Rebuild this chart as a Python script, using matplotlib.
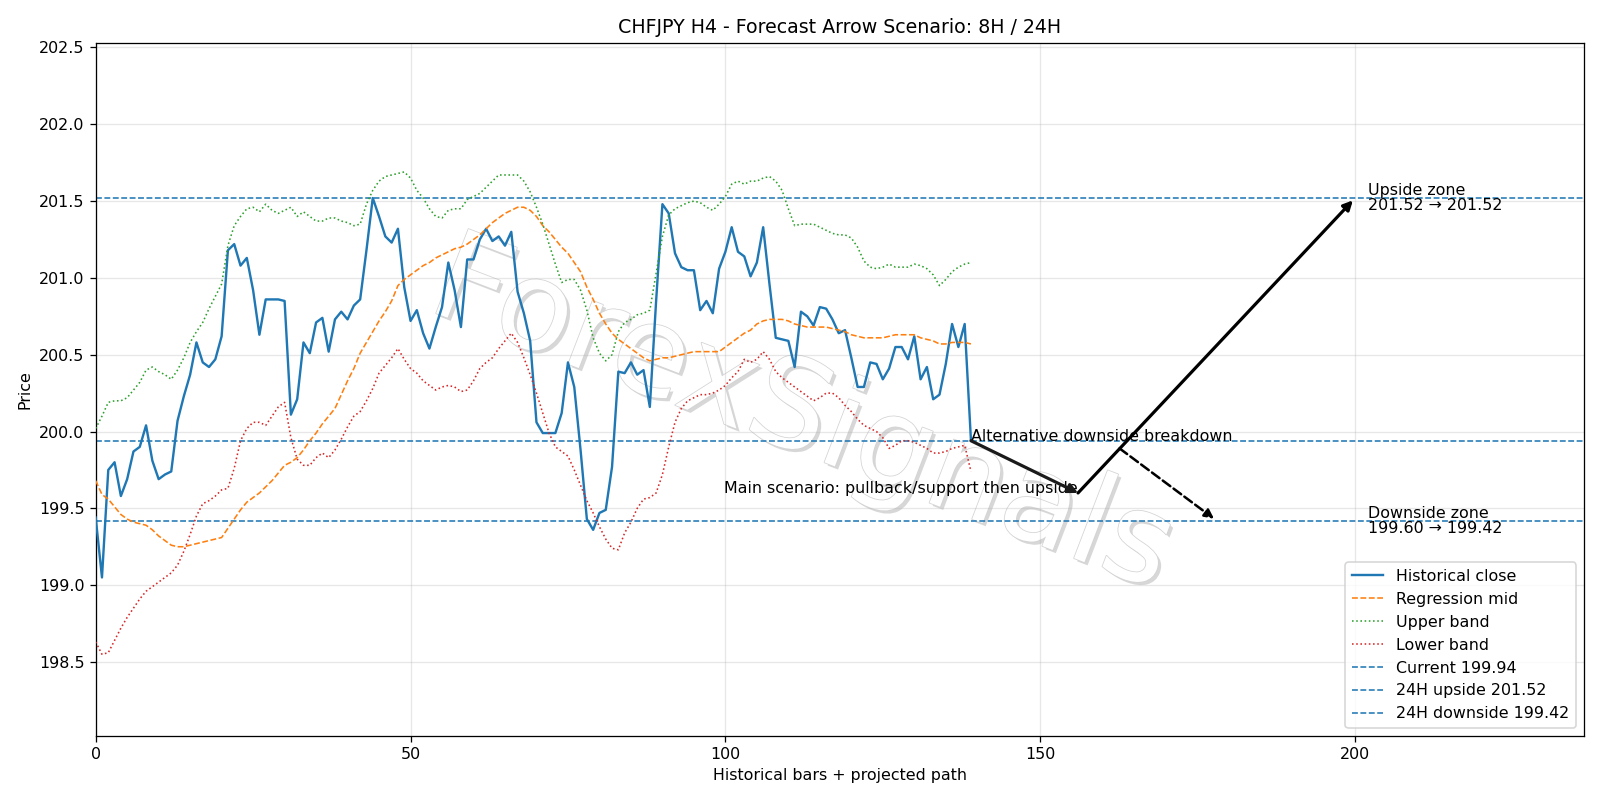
import numpy as np
import matplotlib
matplotlib.use("Agg")
import matplotlib.pyplot as plt
import matplotlib.patheffects as pe

title = "CHFJPY H4 - Forecast Arrow Scenario: 8H / 24H"

close = [199.44, 199.05, 199.75, 199.80, 199.58, 199.69, 199.87, 199.90, 200.04, 199.81,
         199.69, 199.72, 199.74, 200.07, 200.23, 200.37, 200.58, 200.45, 200.42, 200.47,
         200.62, 201.18, 201.22, 201.08, 201.13, 200.92, 200.63, 200.86, 200.86, 200.86,
         200.85, 200.11, 200.21, 200.58, 200.51, 200.71, 200.74, 200.52, 200.73, 200.78,
         200.73, 200.82, 200.86, 201.18, 201.52, 201.40, 201.27, 201.23, 201.32, 200.94,
         200.72, 200.79, 200.64, 200.54, 200.68, 200.81, 201.10, 200.92, 200.68, 201.12,
         201.12, 201.25, 201.32, 201.24, 201.27, 201.21, 201.30, 200.91, 200.77, 200.59,
         200.06, 199.99, 199.99, 199.99, 200.12, 200.45, 200.29, 199.88, 199.43, 199.36,
         199.47, 199.49, 199.77, 200.39, 200.38, 200.45, 200.37, 200.40, 200.16, 200.85,
         201.48, 201.42, 201.16, 201.07, 201.05, 201.05, 200.79, 200.85, 200.77, 201.06,
         201.17, 201.33, 201.17, 201.14, 201.01, 201.10, 201.33, 200.96, 200.61, 200.60,
         200.59, 200.42, 200.78, 200.75, 200.69, 200.81, 200.80, 200.73, 200.64, 200.66,
         200.48, 200.29, 200.29, 200.45, 200.44, 200.34, 200.41, 200.55, 200.55, 200.47,
         200.62, 200.34, 200.42, 200.21, 200.24, 200.44, 200.70, 200.55, 200.70, 199.94]

mid = [199.68, 199.59, 199.56, 199.51, 199.46, 199.43, 199.41, 199.40, 199.39, 199.36,
       199.32, 199.29, 199.26, 199.25, 199.25, 199.26, 199.27, 199.28, 199.29, 199.30,
       199.31, 199.37, 199.43, 199.49, 199.54, 199.57, 199.60, 199.64, 199.68, 199.73,
       199.78, 199.80, 199.83, 199.88, 199.94, 199.99, 200.05, 200.10, 200.15, 200.24,
       200.33, 200.41, 200.51, 200.58, 200.65, 200.72, 200.78, 200.85, 200.95, 200.99,
       201.02, 201.05, 201.08, 201.10, 201.13, 201.15, 201.17, 201.19, 201.20, 201.22,
       201.25, 201.28, 201.32, 201.36, 201.39, 201.42, 201.44, 201.46, 201.46, 201.44,
       201.40, 201.34, 201.30, 201.25, 201.20, 201.16, 201.10, 201.04, 200.94, 200.86,
       200.77, 200.70, 200.64, 200.60, 200.57, 200.54, 200.51, 200.48, 200.46, 200.47,
       200.48, 200.48, 200.49, 200.50, 200.51, 200.52, 200.52, 200.52, 200.52, 200.52,
       200.55, 200.58, 200.61, 200.64, 200.66, 200.70, 200.72, 200.73, 200.73, 200.73,
       200.72, 200.70, 200.69, 200.68, 200.68, 200.68, 200.68, 200.67, 200.66, 200.65,
       200.63, 200.62, 200.61, 200.61, 200.61, 200.61, 200.62, 200.63, 200.63, 200.63,
       200.63, 200.61, 200.60, 200.59, 200.57, 200.57, 200.58, 200.58, 200.58, 200.57]

upper = [200.02, 200.10, 200.19, 200.20, 200.20, 200.22, 200.27, 200.32, 200.40, 200.42,
         200.39, 200.37, 200.34, 200.40, 200.48, 200.58, 200.65, 200.71, 200.80, 200.88,
         200.96, 201.21, 201.34, 201.40, 201.45, 201.46, 201.43, 201.48, 201.44, 201.42,
         201.44, 201.46, 201.40, 201.43, 201.40, 201.37, 201.37, 201.39, 201.39, 201.37,
         201.36, 201.34, 201.35, 201.48, 201.57, 201.63, 201.66, 201.67, 201.68, 201.69,
         201.65, 201.57, 201.52, 201.45, 201.40, 201.39, 201.44, 201.45, 201.45, 201.51,
         201.53, 201.55, 201.59, 201.63, 201.67, 201.67, 201.67, 201.67, 201.63, 201.56,
         201.46, 201.35, 201.22, 201.09, 200.97, 200.99, 200.99, 200.92, 200.79, 200.61,
         200.51, 200.46, 200.50, 200.65, 200.71, 200.73, 200.76, 200.77, 200.79, 201.03,
         201.27, 201.41, 201.45, 201.47, 201.49, 201.50, 201.49, 201.46, 201.44, 201.48,
         201.53, 201.61, 201.63, 201.61, 201.63, 201.63, 201.65, 201.66, 201.63, 201.57,
         201.45, 201.34, 201.35, 201.35, 201.35, 201.33, 201.31, 201.29, 201.28, 201.28,
         201.26, 201.20, 201.11, 201.07, 201.06, 201.07, 201.09, 201.07, 201.07, 201.07,
         201.09, 201.08, 201.06, 201.02, 200.95, 200.99, 201.04, 201.07, 201.09, 201.10]

lower = [198.63, 198.55, 198.56, 198.64, 198.72, 198.79, 198.85, 198.91, 198.96, 198.99,
         199.02, 199.05, 199.08, 199.13, 199.22, 199.33, 199.45, 199.53, 199.55, 199.58,
         199.62, 199.63, 199.76, 199.94, 200.02, 200.06, 200.06, 200.04, 200.10, 200.16,
         200.19, 199.96, 199.82, 199.78, 199.78, 199.83, 199.86, 199.83, 199.88, 199.95,
         200.03, 200.10, 200.13, 200.20, 200.28, 200.38, 200.43, 200.48, 200.54, 200.47,
         200.41, 200.38, 200.33, 200.30, 200.27, 200.29, 200.30, 200.29, 200.26, 200.27,
         200.33, 200.41, 200.45, 200.48, 200.54, 200.59, 200.64, 200.58, 200.48, 200.37,
         200.25, 200.12, 199.99, 199.90, 199.87, 199.84, 199.75, 199.65, 199.55, 199.47,
         199.38, 199.30, 199.24, 199.23, 199.34, 199.41, 199.50, 199.56, 199.57, 199.60,
         199.72, 199.90, 200.06, 200.15, 200.20, 200.22, 200.24, 200.24, 200.25, 200.27,
         200.30, 200.35, 200.39, 200.47, 200.45, 200.47, 200.52, 200.47, 200.39, 200.35,
         200.32, 200.29, 200.26, 200.23, 200.20, 200.22, 200.25, 200.25, 200.22, 200.17,
         200.13, 200.08, 200.04, 200.02, 200.00, 199.96, 199.89, 199.91, 199.94, 199.94,
         199.93, 199.91, 199.89, 199.86, 199.86, 199.87, 199.89, 199.90, 199.91, 199.74]

current = 199.94
up_target = 201.52
down_target = 199.42
pullback = 199.60

# projected path (bar index, price)
main_path_x = [139, 156, 200]
main_path_y = [current, pullback, up_target]
alt_x = [162.6, 178]
alt_y = [199.89, down_target]

x = np.arange(len(close))

DPI = 800 / 7
fig = plt.figure(figsize=(14, 7), dpi=DPI)
ax = fig.add_axes([0.0598, 0.0804, 0.9300, 0.8660])

# watermark
ax.text(0.475, 0.46, "ForexSignals", transform=ax.transAxes, fontsize=78,
        rotation=-21, ha="center", va="center", color="white", zorder=1.5,
        path_effects=[pe.SimplePatchShadow(offset=(2, -2), shadow_rgbFace="#a8a8a8", alpha=0.45),
                      pe.Stroke(linewidth=1.0, foreground="#d4d4d4"),
                      pe.Normal()])

ax.plot(x, close, color="C0", lw=1.5, label="Historical close", zorder=3)
ax.plot(x, mid, color="C1", ls="--", lw=1.0, label="Regression mid", zorder=3)
ax.plot(x, upper, color="C2", ls=":", lw=1.0, label="Upper band", zorder=3)
ax.plot(x, lower, color="C3", ls=":", lw=1.0, label="Lower band", zorder=3)

ax.axhline(current, color="C0", ls="--", lw=1.0, label=f"Current {current:.2f}")
ax.axhline(up_target, color="C0", ls="--", lw=1.0, label=f"24H upside {up_target:.2f}")
ax.axhline(down_target, color="C0", ls="--", lw=1.0, label=f"24H downside {down_target:.2f}")

ax.annotate("", xy=(main_path_x[1], main_path_y[1]), xytext=(main_path_x[0], main_path_y[0]),
            arrowprops=dict(arrowstyle="-|>", color="#1a1a1a", lw=2.0, mutation_scale=12,
                            shrinkA=0, shrinkB=0), zorder=5)
ax.annotate("", xy=(main_path_x[2], main_path_y[2]), xytext=(main_path_x[1], main_path_y[1]),
            arrowprops=dict(arrowstyle="-|>", color="black", lw=2.0, mutation_scale=12,
                            shrinkA=0), zorder=5)
ax.annotate("", xy=(alt_x[1], alt_y[1]), xytext=(alt_x[0], alt_y[0]),
            arrowprops=dict(arrowstyle="-|>", color="black", lw=1.6, ls="--", mutation_scale=12,
                            shrinkA=0), zorder=5)

ax.text(main_path_x[1], main_path_y[1], "Main scenario: pullback/support then upside",
        ha="right", va="baseline", fontsize=10, zorder=4)
ax.text(main_path_x[0], current, "Alternative downside breakdown",
        ha="left", va="baseline", fontsize=10, zorder=4)
ax.text(202, up_target, f"Upside zone\n{up_target:.2f} \u2192 {up_target:.2f}",
        ha="left", va="center", fontsize=10, linespacing=1.0)
ax.text(202, down_target, f"Downside zone\n{pullback:.2f} \u2192 {down_target:.2f}",
        ha="left", va="center", fontsize=10, linespacing=1.0)

ax.set_xlim(0, 236.3)
ax.set_ylim(198.02, 202.53)
ax.set_yticks(np.arange(198.5, 202.51, 0.5))
ax.set_xticks([0, 50, 100, 150, 200])
ax.grid(True, alpha=0.3)
ax.set_title(title)
ax.set_xlabel("Historical bars + projected path")
ax.set_ylabel("Price")
ax.legend(loc="lower right")

fig.savefig("out.png", dpi=DPI)
